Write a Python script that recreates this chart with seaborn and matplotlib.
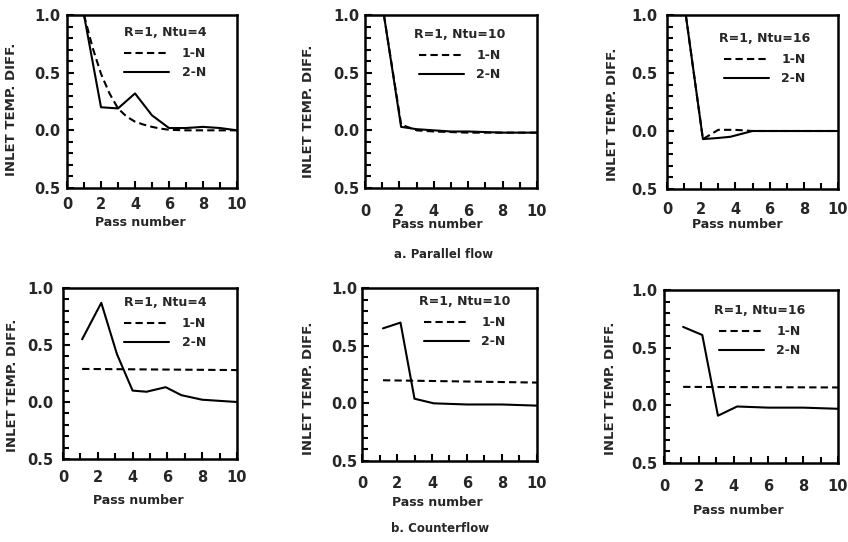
import numpy as np
import pandas as pd
import seaborn as sns
import matplotlib
matplotlib.use("Agg")
import matplotlib.pyplot as plt
from matplotlib.ticker import MultipleLocator, FixedLocator, FixedFormatter

sns.set_theme(style="white")
plt.rcParams['font.family'] = ['DejaVu Sans']
plt.rcParams['font.weight'] = 'bold'

# ---------------- data ----------------
pf4_x_1n = [1, 1.5, 2, 2.5, 3, 3.5, 4, 4.5, 5, 5.5, 6, 7, 8, 9, 10]
pf4_y_1n = [1.0, 0.72, 0.49, 0.32, 0.19, 0.12, 0.075, 0.05, 0.03, 0.015, 0.005, 0.0, 0.0, 0.0, 0.0]
pf4_x_2n = [1, 2, 3, 4, 5, 6, 7, 8, 9, 10]
pf4_y_2n = [1.0, 0.2, 0.19, 0.32, 0.13, 0.02, 0.02, 0.03, 0.02, 0.0]

pf10_x_1n = [1.1, 2.1, 3, 4, 5, 6, 8, 10]
pf10_y_1n = [1.0, 0.05, 0.0, -0.01, -0.015, -0.02, -0.02, -0.02]
pf10_x_2n = [1.1, 2.1, 3, 4, 5, 6, 8, 10]
pf10_y_2n = [1.0, 0.03, 0.01, 0.0, -0.01, -0.01, -0.02, -0.02]

pf16_x_1n = [1.1, 2.1, 3, 4, 5, 10]
pf16_y_1n = [1.0, -0.07, 0.01, 0.01, 0.0, 0.0]
pf16_x_2n = [1.1, 2.1, 3, 3.7, 5, 6, 8, 10]
pf16_y_2n = [1.0, -0.07, -0.06, -0.05, 0.0, 0.0, 0.0, 0.0]

cf4_x_1n = [1.1, 10]
cf4_y_1n = [0.29, 0.28]
cf4_x_2n = [1.1, 2.2, 3.1, 4.0, 4.8, 5.9, 6.8, 8.0, 9, 10]
cf4_y_2n = [0.55, 0.87, 0.42, 0.10, 0.09, 0.13, 0.06, 0.02, 0.01, 0.0]

cf10_x_1n = [1.2, 10]
cf10_y_1n = [0.20, 0.18]
cf10_x_2n = [1.2, 2.2, 3.0, 4.1, 6, 8, 10]
cf10_y_2n = [0.65, 0.70, 0.04, 0.0, -0.01, -0.01, -0.02]

cf16_x_1n = [1.1, 10]
cf16_y_1n = [0.16, 0.155]
cf16_x_2n = [1.1, 2.2, 3.1, 4.2, 6, 8, 10]
cf16_y_2n = [0.68, 0.61, -0.09, -0.01, -0.02, -0.02, -0.03]

panel_titles = ["R=1, Ntu=4", "R=1, Ntu=10", "R=1, Ntu=16"]
series_names = ["1-N", "2-N"]
y_ticks = [-0.5, 0.0, 0.5, 1.0]
y_tick_labels = ["0.5", "0.0", "0.5", "1.0"]
x_ticks = [0, 2, 4, 6, 8, 10]
x_tick_labels = ["0", "2", "4", "6", "8", "10"]
y_label = "INLET TEMP. DIFF."
x_label = "Pass number"
captions = ["a. Parallel flow", "b. Counterflow"]

panels = [
    (pf4_x_1n, pf4_y_1n, pf4_x_2n, pf4_y_2n),
    (pf10_x_1n, pf10_y_1n, pf10_x_2n, pf10_y_2n),
    (pf16_x_1n, pf16_y_1n, pf16_x_2n, pf16_y_2n),
    (cf4_x_1n, cf4_y_1n, cf4_x_2n, cf4_y_2n),
    (cf10_x_1n, cf10_y_1n, cf10_x_2n, cf10_y_2n),
    (cf16_x_1n, cf16_y_1n, cf16_x_2n, cf16_y_2n),
]

# ---------------- layout (pixels) ----------------
W, H = 848, 542
# left, right, top, bottom
boxes = [(67, 237, 15, 188), (365, 537, 15, 188), (667, 838, 15, 189),
         (63, 237, 288, 459), (362, 537, 288, 461), (664, 838, 290, 463)]
xlab_pos = [(140, 223), (437, 225), (737, 225), (138, 501), (437, 503), (738, 510)]
ylab_pos = [(12, 109), (308, 111), (612, 114), (12, 385), (308, 388), (610, 388)]
xtick_y = [203, 210, 208, 476, 482, 485]
ytick_gap = [7, 6, 10, 10, 5, 7]
leg_anchor = [(124, 26), (414, 28), (719, 32), (124, 296), (419, 295), (714, 304)]

fig = plt.figure(figsize=(W / 100, H / 100), dpi=100)
fig.patch.set_facecolor('white')

for i, (box, data) in enumerate(zip(boxes, panels)):
    l, r, t, b = box
    ax = fig.add_axes([l / W, 1 - b / H, (r - l) / W, (b - t) / H])
    x1, y1, x2, y2 = data
    df = pd.concat([
        pd.DataFrame({"x": x1, "y": y1, "series": series_names[0]}),
        pd.DataFrame({"x": x2, "y": y2, "series": series_names[1]}),
    ], ignore_index=True)
    sns.lineplot(data=df, x="x", y="y", style="series", style_order=series_names,
                 dashes={"1-N": (3.5, 2), "2-N": ""}, color="black",
                 linewidth=1.5, estimator=None, sort=False, ax=ax)
    ax.set_xlim(0, 10)
    ax.set_ylim(-0.5, 1.0)
    ax.set_facecolor('white')
    for s in ax.spines.values():
        s.set_color('black')
        s.set_linewidth(1.8)
    ax.yaxis.set_major_locator(FixedLocator(y_ticks))
    ax.yaxis.set_major_formatter(FixedFormatter(y_tick_labels))
    ax.yaxis.set_minor_locator(MultipleLocator(0.1))
    ax.xaxis.set_major_locator(FixedLocator(x_ticks))
    ax.xaxis.set_major_formatter(FixedFormatter(x_tick_labels))
    ax.xaxis.set_minor_locator(MultipleLocator(1))
    ax.tick_params(axis='both', which='both', direction='in', color='black',
                   left=True, bottom=True, top=False, right=False)
    ax.tick_params(axis='both', which='major', length=5, width=1.5)
    ax.tick_params(axis='both', which='minor', length=4, width=1.5)
    gap_pt = ytick_gap[i] * 72 / 100
    ax.tick_params(axis='y', which='major', pad=gap_pt, labelsize=10.5)
    xpad = (xtick_y[i] - b - 6) * 72 / 100
    ax.tick_params(axis='x', which='major', pad=xpad, labelsize=10.5)
    for lab in ax.get_xticklabels() + ax.get_yticklabels():
        lab.set_fontweight('bold')

    ax.set_xlabel(x_label, fontsize=9, fontweight='bold', va='center')
    ax.xaxis.set_label_coords((xlab_pos[i][0] - l) / (r - l),
                              (b - xlab_pos[i][1]) / (b - t))
    ax.set_ylabel(y_label, fontsize=9.5, fontweight='bold', va='center')
    ax.yaxis.set_label_coords((ylab_pos[i][0] - l) / (r - l),
                              (b - ylab_pos[i][1]) / (b - t))

    handles, labels = ax.get_legend_handles_labels()
    lx, ly = leg_anchor[i]
    leg = ax.legend(handles, labels, title=panel_titles[i % 3], loc='upper left',
                    bbox_to_anchor=(lx / W, 1 - ly / H), bbox_transform=fig.transFigure,
                    frameon=False, fontsize=9, title_fontsize=9, borderpad=0,
                    handlelength=3.6, handletextpad=1.0, labelspacing=0.45,
                    borderaxespad=0)
    leg.get_title().set_fontweight('bold')
    for txt in leg.get_texts():
        txt.set_fontweight('bold')
    leg._legend_box.sep = 6

fig.text(444 / W, 1 - 255 / H, captions[0], ha='center', va='center',
         fontsize=8.5, fontweight='bold')
fig.text(440 / W, 1 - 528 / H, captions[1], ha='center', va='center',
         fontsize=8.5, fontweight='bold')

fig.savefig("out.png", dpi=100, facecolor='white')
